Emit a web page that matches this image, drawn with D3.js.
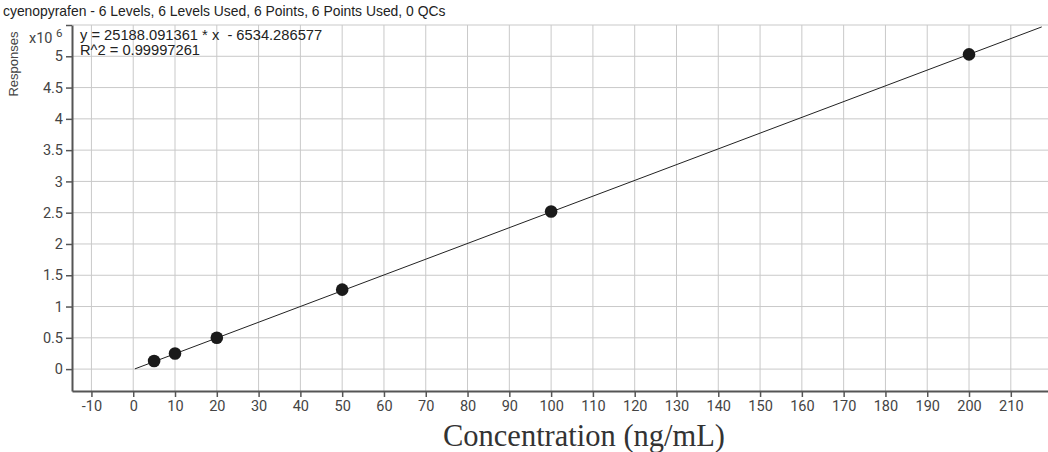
<!DOCTYPE html>
<html><head><meta charset="utf-8">
<script src="https://cdn.jsdelivr.net/npm/d3@7"></script>
<style>
html,body{margin:0;padding:0;background:#fff;}
svg{display:block;}
</style></head>
<body>
<svg id="chart" width="1048" height="452"></svg>
<script>
const title = "cyenopyrafen - 6 Levels, 6 Levels Used, 6 Points, 6 Points Used, 0 QCs";
const concentrations = [5, 10, 20, 50, 100, 200];
const responses = [0.13, 0.25, 0.50, 1.27, 2.52, 5.03]; // x10^6
const slope = 25188.091361;
const intercept = -6534.286577;
const r2 = "0.99997261";
const xTicks = [-10,0,10,20,30,40,50,60,70,80,90,100,110,120,130,140,150,160,170,180,190,200,210];
const yTicks = [0,0.5,1,1.5,2,2.5,3,3.5,4,4.5,5,5.5];
const fitRange = [0.4, 217.4];

const svg = d3.select("#chart");
const L = 72, R = 1048, T = 25, B = 391;
const x = d3.scaleLinear().domain([-14.65, 218.9]).range([L, R]);
const y = d3.scaleLinear().domain([-0.35, 5.5]).range([B, T]);

// gridlines
svg.append("g").selectAll("line").data(xTicks).join("line")
  .attr("x1", d => x(d)).attr("x2", d => x(d)).attr("y1", T).attr("y2", B)
  .attr("stroke", "#c9c9c9").attr("stroke-width", 1);
svg.append("g").selectAll("line").data(yTicks).join("line")
  .attr("x1", L).attr("x2", R).attr("y1", d => y(d)).attr("y2", d => y(d))
  .attr("stroke", "#c9c9c9").attr("stroke-width", 1);

// axes
const plain = d => String(d);
const xAxis = d3.axisBottom(x).tickValues(xTicks).tickSize(6).tickSizeOuter(0).tickPadding(4).tickFormat(plain);
const gx = svg.append("g").attr("transform", `translate(0,${B})`).call(xAxis);
gx.select(".domain").attr("stroke", "#555").attr("stroke-width", 2);
gx.selectAll(".tick line").attr("stroke", "#555").attr("stroke-width", 1.5);
gx.selectAll(".tick text").attr("font-family", "Roboto, Arial, sans-serif").attr("font-size", 14.5).attr("fill", "#444");

const yAxis = d3.axisLeft(y).tickValues(yTicks).tickSize(6).tickSizeOuter(0).tickPadding(3)
  .tickFormat(d => d === 5.5 ? "" : plain(d));
const gy = svg.append("g").attr("transform", `translate(${L},0)`).call(yAxis);
gy.select(".domain").attr("stroke", "#555").attr("stroke-width", 2);
gy.selectAll(".tick line").attr("stroke", "#555").attr("stroke-width", 1.5);
gy.selectAll(".tick text").attr("font-family", "Roboto, Arial, sans-serif").attr("font-size", 14.5).attr("fill", "#444");

// fit line
const fit = fitRange.map(c => [c, (slope * c + intercept) / 1e6]);
svg.append("path").datum(fit)
  .attr("d", d3.line().x(d => x(d[0])).y(d => y(d[1])))
  .attr("stroke", "#222").attr("stroke-width", 1).attr("fill", "none");

// points
svg.append("g").selectAll("circle").data(concentrations).join("circle")
  .attr("cx", d => x(d)).attr("cy", (d, i) => y(responses[i]))
  .attr("r", 6.3).attr("fill", "#1a1a1a");

// texts
svg.append("text").attr("x", 3).attr("y", 16).text(title)
  .attr("font-family", "Arial, 'Liberation Sans', sans-serif").attr("font-size", 13.9).attr("fill", "#222");
svg.append("text").attr("x", 80).attr("y", 40)
  .text(`y = ${slope.toFixed(6)} * x  - ${Math.abs(intercept).toFixed(6)}`)
  .attr("xml:space", "preserve").style("white-space", "pre")
  .attr("font-family", "Arial, 'Liberation Sans', sans-serif").attr("font-size", 14.7).attr("fill", "#222");
svg.append("text").attr("x", 80).attr("y", 55).text(`R^2 = ${r2}`)
  .attr("font-family", "Arial, 'Liberation Sans', sans-serif").attr("font-size", 14.7).attr("fill", "#222");

const mult = svg.append("text").attr("x", 29).attr("y", 43)
  .attr("font-family", "Roboto, Arial, sans-serif").attr("font-size", 14.5).attr("fill", "#444");
mult.append("tspan").text("x10 ");
mult.append("tspan").attr("dy", -6).attr("font-size", 11.5).text("6");

svg.append("text").attr("transform", "translate(18,64) rotate(-90)")
  .attr("text-anchor", "middle").text("Responses")
  .attr("font-family", "Arial, 'Liberation Sans', sans-serif").attr("font-size", 13).attr("fill", "#444");

svg.append("text").attr("x", 584).attr("y", 446).attr("text-anchor", "middle")
  .text("Concentration (ng/mL)")
  .attr("font-family", "'Liberation Serif', 'Times New Roman', serif").attr("font-size", 30.5).attr("fill", "#333");
</script>
</body></html>
